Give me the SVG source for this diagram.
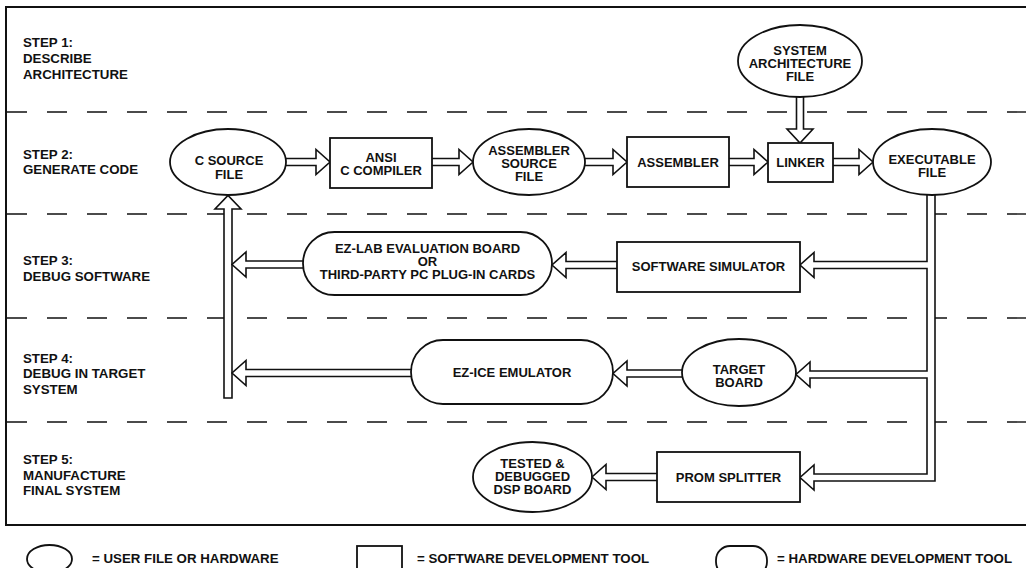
<svg xmlns="http://www.w3.org/2000/svg" width="1026" height="568" viewBox="0 0 1026 568">
  <style>
    .t{font-family:"Liberation Sans",Arial,Helvetica,sans-serif;font-weight:bold;font-size:13px;fill:#111;text-anchor:middle}
    .lbl{font-family:"Liberation Sans",Arial,Helvetica,sans-serif;font-weight:bold;font-size:13.3px;fill:#111;text-anchor:start}
    .shape{fill:#fff;stroke:#111;stroke-width:1.8}
    .arrow{fill:#fff;stroke:#111;stroke-width:1.6;stroke-linejoin:miter}
    .sep{stroke:#111;stroke-width:1.4;stroke-dasharray:20 20;fill:none}
  </style>
  <rect width="1026" height="568" fill="#fff"/>

  <!-- outer frame -->
  <rect x="6" y="7" width="1030" height="518" fill="none" stroke="#111" stroke-width="2"/>

  <!-- step separators -->
  <g id="separators">
    <line class="sep" x1="7" y1="112" x2="1026" y2="112"/>
    <line class="sep" x1="7" y1="214" x2="1026" y2="214"/>
    <line class="sep" x1="7" y1="318" x2="1026" y2="318"/>
    <line class="sep" x1="7" y1="422" x2="1026" y2="422"/>
  </g>

  <!-- step labels -->
  <g id="step-labels">
    <text class="lbl" x="23" y="47">STEP 1:</text>
    <text class="lbl" x="23" y="63">DESCRIBE</text>
    <text class="lbl" x="23" y="79">ARCHITECTURE</text>
    <text class="lbl" x="23" y="159">STEP 2:</text>
    <text class="lbl" x="23" y="174">GENERATE CODE</text>
    <text class="lbl" x="23" y="265">STEP 3:</text>
    <text class="lbl" x="23" y="281">DEBUG SOFTWARE</text>
    <text class="lbl" x="23" y="363">STEP 4:</text>
    <text class="lbl" x="23" y="378">DEBUG IN TARGET</text>
    <text class="lbl" x="23" y="394">SYSTEM</text>
    <text class="lbl" x="23" y="464">STEP 5:</text>
    <text class="lbl" x="23" y="480">MANUFACTURE</text>
    <text class="lbl" x="23" y="495">FINAL SYSTEM</text>
  </g>

  <!-- hollow block-arrow connectors -->
  <g id="connectors">
    <path class="arrow" d="M 280 158.5 H 316 V 149.5 L 330 162 L 316 174.5 V 165.5 H 280"/>
    <path class="arrow" d="M 430 158.5 H 459 V 149.5 L 473 162 L 459 174.5 V 165.5 H 430"/>
    <path class="arrow" d="M 580 158.5 H 613 V 149.5 L 627 162 L 613 174.5 V 165.5 H 580"/>
    <path class="arrow" d="M 727 158.5 H 754 V 149.5 L 768 162 L 754 174.5 V 165.5 H 727"/>
    <path class="arrow" d="M 831 158.5 H 859 V 149.5 L 873 162 L 859 174.5 V 165.5 H 831"/>
    <path class="arrow" d="M 796.5 92 V 129 H 787 L 800 143 L 813 129 H 803.5 V 92"/>
    <!-- executable file trunk with its three branches -->
    <path class="arrow" d="M 935 190 V 481 H 814 V 490 L 800 477.5 L 814 465 V 474 H 927 V 378 H 810 V 387 L 796 374.5 L 810 362 V 371 H 927 V 268.5 H 814 V 277.5 L 800 265 L 814 252.5 V 261.5 H 927 V 190"/>
    <!-- return path back to the C source -->
    <path class="arrow" d="M 224 398 V 209 H 215 L 228 195.5 L 241 209 H 232 V 398 Z"/>
    <path class="arrow" d="M 619 261.5 H 566 V 252.5 L 552 265 L 566 277.5 V 268.5 H 619"/>
    <path class="arrow" d="M 305 261 H 246 V 252 L 232 264.5 L 246 277 V 268 H 305"/>
    <path class="arrow" d="M 684 370 H 627 V 361 L 613 373.5 L 627 386 V 377 H 684"/>
    <path class="arrow" d="M 413 369.5 H 246 V 360.5 L 232 373 L 246 385.5 V 376.5 H 413"/>
    <path class="arrow" d="M 659 473.5 H 606 V 464.5 L 592 477 L 606 489.5 V 480.5 H 659"/>
  </g>

  <g id="sys-arch-file">
    <ellipse class="shape" cx="800" cy="61" rx="62" ry="36"/>
    <text class="t" x="800" y="55">SYSTEM</text>
    <text class="t" x="800" y="68">ARCHITECTURE</text>
    <text class="t" x="800" y="81">FILE</text>
  </g>

  <g id="c-source-file">
    <ellipse class="shape" cx="228" cy="162" rx="58" ry="33"/>
    <text class="t" x="229" y="165">C SOURCE</text>
    <text class="t" x="229" y="178.5">FILE</text>
  </g>

  <g id="ansi-c-compiler">
    <rect class="shape" x="330" y="138" width="102" height="50"/>
    <text class="t" x="381" y="162">ANSI</text>
    <text class="t" x="381" y="175">C COMPILER</text>
  </g>

  <g id="asm-source-file">
    <ellipse class="shape" cx="529" cy="162" rx="56" ry="33"/>
    <text class="t" x="529" y="155">ASSEMBLER</text>
    <text class="t" x="529" y="168">SOURCE</text>
    <text class="t" x="529" y="181">FILE</text>
  </g>

  <g id="assembler">
    <rect class="shape" x="627" y="137" width="102" height="50"/>
    <text class="t" x="678" y="167">ASSEMBLER</text>
  </g>

  <g id="linker">
    <rect class="shape" x="768" y="143" width="65" height="39"/>
    <text class="t" x="800.5" y="167">LINKER</text>
  </g>

  <g id="executable-file">
    <ellipse class="shape" cx="932" cy="162" rx="59" ry="33"/>
    <text class="t" x="932" y="164">EXECUTABLE</text>
    <text class="t" x="932" y="177">FILE</text>
  </g>

  <g id="ez-lab">
    <rect class="shape" x="303" y="232" width="249" height="63" rx="31.5"/>
    <text class="t" x="427.5" y="253">EZ-LAB EVALUATION BOARD</text>
    <text class="t" x="427.5" y="266">OR</text>
    <text class="t" x="427.5" y="279">THIRD-PARTY PC PLUG-IN CARDS</text>
  </g>

  <g id="software-simulator">
    <rect class="shape" x="617" y="242" width="183" height="50"/>
    <text class="t" x="708.5" y="271">SOFTWARE SIMULATOR</text>
  </g>

  <g id="ez-ice">
    <rect class="shape" x="411" y="340" width="202" height="64" rx="32"/>
    <text class="t" x="512" y="377">EZ-ICE EMULATOR</text>
  </g>

  <g id="target-board">
    <ellipse class="shape" cx="739" cy="372.5" rx="57" ry="33.5"/>
    <text class="t" x="739" y="374">TARGET</text>
    <text class="t" x="739" y="387">BOARD</text>
  </g>

  <g id="tested-board">
    <ellipse class="shape" cx="532.5" cy="477" rx="59.5" ry="35"/>
    <text class="t" x="532.5" y="468">TESTED &amp;</text>
    <text class="t" x="532.5" y="481">DEBUGGED</text>
    <text class="t" x="532.5" y="494">DSP BOARD</text>
  </g>

  <g id="prom-splitter">
    <rect class="shape" x="657" y="452" width="143" height="50"/>
    <text class="t" x="728.5" y="482">PROM SPLITTER</text>
  </g>

  <!-- key -->
  <g id="legend">
    <ellipse class="shape" cx="49.5" cy="559" rx="22.5" ry="14"/>
    <text class="lbl" x="92" y="563">= USER FILE OR HARDWARE</text>
    <rect class="shape" x="357" y="546" width="45" height="30"/>
    <text class="lbl" x="417" y="563">= SOFTWARE DEVELOPMENT TOOL</text>
    <rect class="shape" x="716" y="546" width="51" height="30" rx="14"/>
    <text class="lbl" x="777" y="563">= HARDWARE DEVELOPMENT TOOL</text>
  </g>
</svg>
